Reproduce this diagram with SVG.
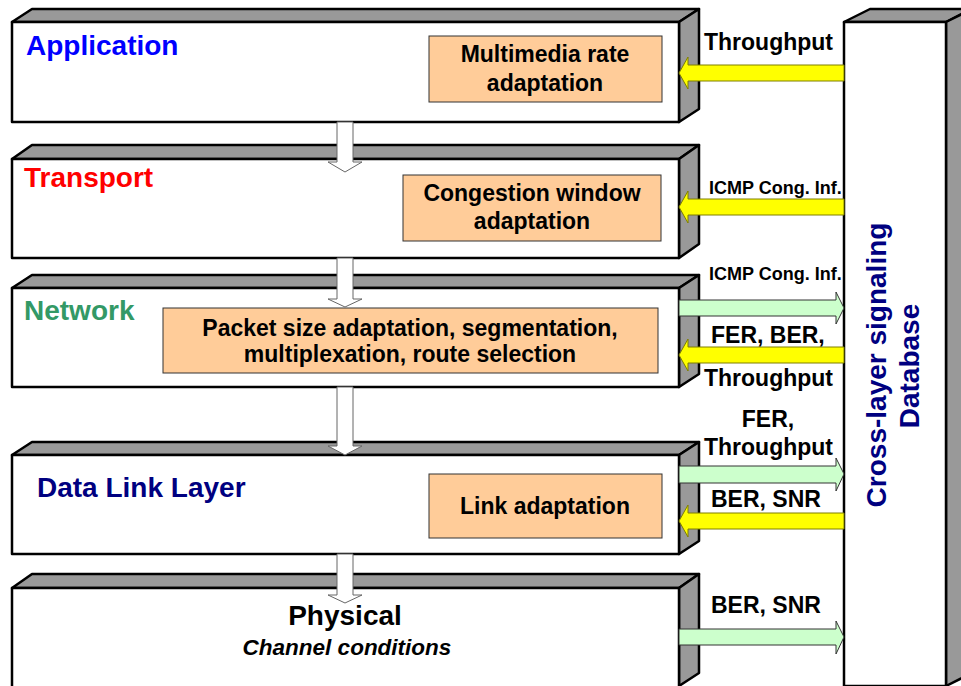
<svg xmlns="http://www.w3.org/2000/svg" width="961" height="686" viewBox="0 0 961 686">
<style>
.face{fill:#ffffff;stroke:#000;stroke-width:2.5;stroke-linejoin:round}
.shade{fill:#999999;stroke:#000;stroke-width:2.5;stroke-linejoin:round}
.func{fill:#FFCC99;stroke:#333;stroke-width:1}
.yel{fill:#FFFF00;stroke:#7f7f00;stroke-width:1}
.grn{fill:#CCFFCC;stroke:#333;stroke-width:1}
.down{fill:#fff;stroke:#666;stroke-width:1}
text{font-family:"Liberation Sans",Arial,sans-serif;font-weight:bold}
.layer{font-size:28px}
.ft{font-size:23px;fill:#000;text-anchor:middle}
.lbl{font-size:23px;fill:#000}
.sm{font-size:18px;fill:#000}
.db{font-size:28px;fill:#000080;text-anchor:middle}
</style>
<rect width="961" height="686" fill="#fff"/>
<g id="database">
<polygon class="shade" points="844,22 870,9 972,9 946,22"/>
<polygon class="shade" points="946,22 972,9 972,673 946,686"/>
<rect class="face" x="844" y="22" width="102" height="664"/>
<text class="db" transform="translate(886,365) rotate(-90)">Cross-layer signaling</text>
<text class="db" transform="translate(919,366) rotate(-90)">Database</text>
</g>
<g id="application">
<polygon class="shade" points="12,22 32,9 699,9 679,22"/>
<polygon class="shade" points="679,22 699,9 699,109 679,122"/>
<rect class="face" x="12" y="22" width="667" height="100"/>
<text class="layer" x="26" y="55" fill="#0000FF">Application</text>
<rect class="func" x="429" y="36" width="233" height="66"/>
<text class="ft" x="545" y="62">Multimedia rate</text>
<text class="ft" x="545" y="91">adaptation</text>
</g>
<g id="transport">
<polygon class="shade" points="12,159 32,145 699,145 679,159"/>
<polygon class="shade" points="679,159 699,145 699,244 679,258"/>
<rect class="face" x="12" y="159" width="667" height="99"/>
<text class="layer" x="24" y="187" fill="#FF0000">Transport</text>
<rect class="func" x="403" y="175" width="258" height="66"/>
<text class="ft" x="532" y="201">Congestion window</text>
<text class="ft" x="532" y="229">adaptation</text>
</g>
<g id="network">
<polygon class="shade" points="12,288 32,275 699,275 679,288"/>
<polygon class="shade" points="679,288 699,275 699,374 679,387"/>
<rect class="face" x="12" y="288" width="667" height="99"/>
<text class="layer" x="24" y="320" fill="#339966">Network</text>
<rect class="func" x="163" y="308" width="495" height="65"/>
<text class="ft" x="410" y="336">Packet size adaptation, segmentation,</text>
<text class="ft" x="410" y="362">multiplexation, route selection</text>
</g>
<g id="datalink">
<polygon class="shade" points="12,455 32,442 699,442 679,455"/>
<polygon class="shade" points="679,455 699,442 699,541 679,554"/>
<rect class="face" x="12" y="455" width="667" height="99"/>
<text class="layer" x="37" y="497" fill="#000080">Data Link Layer</text>
<rect class="func" x="429" y="474" width="233" height="64"/>
<text class="ft" x="545" y="514">Link adaptation</text>
</g>
<g id="physical">
<polygon class="shade" points="12,588 32,574 699,574 679,588"/>
<polygon class="shade" points="679,588 699,574 699,673 679,686"/>
<rect class="face" x="12" y="588" width="667" height="110"/>
<text class="layer" x="345" y="625" fill="#000" text-anchor="middle">Physical</text>
<text x="347" y="655" font-size="22.5" font-style="italic" text-anchor="middle" fill="#000">Channel conditions</text>
</g>
<g id="connectors">
<polygon class="down" points="337,122 353,122 353,162 362,162 345,172 328,162 337,162"/>
<polygon class="down" points="337,258 353,258 353,299 362,299 345,307 328,299 337,299"/>
<polygon class="down" points="337,387 353,387 353,446 362,446 345,455 328,446 337,446"/>
<polygon class="down" points="337,554 353,554 353,595 362,595 345,603 328,595 337,595"/>
<polygon class="yel" points="679,73 688,57 688,65 844,65 844,81 688,81 688,89"/>
<polygon class="yel" points="679,207 688,191 688,199 844,199 844,215 688,215 688,223"/>
<polygon class="grn" points="679,300 836,300 836,292 844,308 836,324 836,316 679,316"/>
<polygon class="yel" points="679,355 688,339 688,347 844,347 844,363 688,363 688,371"/>
<polygon class="grn" points="679,466 836,466 836,458 844,474 836,491 836,483 679,483"/>
<polygon class="yel" points="679,521 688,505 688,513 844,513 844,529 688,529 688,537"/>
<polygon class="grn" points="679,629 836,629 836,621 844,637 836,654 836,645 679,645"/>
<text class="lbl" x="704" y="50">Throughput</text>
<text class="sm" x="709" y="194">ICMP Cong. Inf.</text>
<text class="sm" x="709" y="280">ICMP Cong. Inf.</text>
<text class="lbl" x="711" y="343">FER, BER,</text>
<text class="lbl" x="704" y="386">Throughput</text>
<text class="lbl" x="768" y="427" text-anchor="middle">FER,</text>
<text class="lbl" x="704" y="455">Throughput</text>
<text class="lbl" x="711" y="507">BER, SNR</text>
<text class="lbl" x="711" y="613">BER, SNR</text>
</g>
</svg>
